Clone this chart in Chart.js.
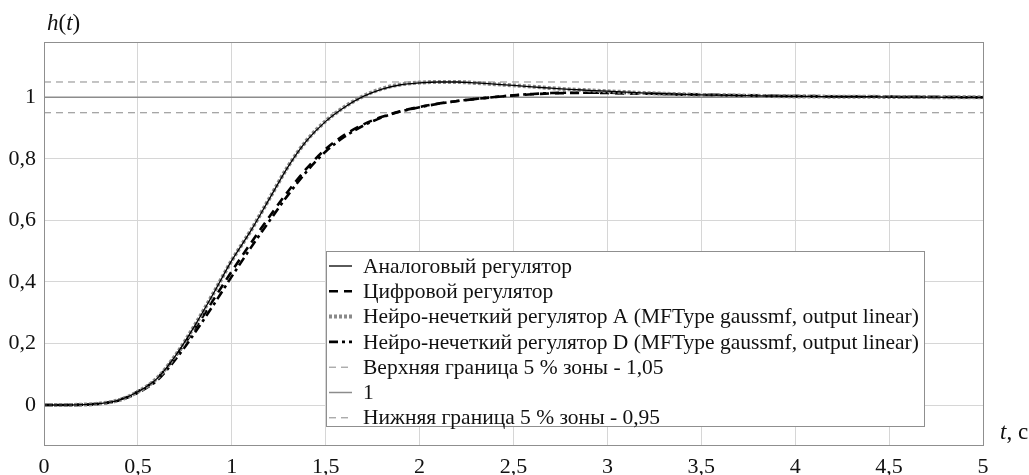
<!DOCTYPE html>
<html>
<head>
<meta charset="utf-8">
<script src="https://cdn.jsdelivr.net/npm/chart.js@4.4.1/dist/chart.umd.min.js"></script>
<style>
  html, body { margin: 0; padding: 0; background: #fff; }
  #wrap { width: 1029px; height: 475px; }
</style>
</head>
<body>
<div id="wrap"><canvas id="grafico" width="1029" height="475"></canvas></div>
<script>
// Переходные характеристики h(t)

const tempo = [0, 0.1, 0.2, 0.3, 0.4, 0.5, 0.6, 0.7, 0.8, 0.9,
  1, 1.1, 1.2, 1.3, 1.4, 1.5, 1.6, 1.7, 1.8, 1.9,
  2, 2.1, 2.2, 2.3, 2.4, 2.5, 2.6, 2.7, 2.8, 2.9,
  3, 3.1, 3.2, 3.3, 3.4, 3.5, 3.6, 3.7, 3.8, 3.9,
  4, 4.1, 4.2, 4.3, 4.4, 4.5, 4.6, 4.7, 4.8, 4.9, 5];

const analogico = [0, 0, 0.001, 0.005, 0.016, 0.043, 0.085, 0.16, 0.255, 0.36,
  0.47, 0.565, 0.67, 0.775, 0.86, 0.922, 0.968, 1.003, 1.027, 1.041,
  1.047, 1.05, 1.05, 1.047, 1.043, 1.039, 1.034, 1.03, 1.026, 1.023,
  1.02, 1.017, 1.014, 1.012, 1.01, 1.008, 1.007, 1.006, 1.005, 1.004,
  1.003, 1.003, 1.002, 1.002, 1.002, 1.001, 1.001, 1.001, 1.0, 1.0, 1.0];

const digital = [0, 0, 0.001, 0.005, 0.017, 0.044, 0.085, 0.158, 0.245, 0.34,
  0.435, 0.525, 0.612, 0.695, 0.77, 0.832, 0.878, 0.912, 0.937, 0.955,
  0.969, 0.98, 0.988, 0.995, 1.001, 1.006, 1.01, 1.013, 1.014, 1.015,
  1.014, 1.013, 1.012, 1.011, 1.009, 1.008, 1.007, 1.006, 1.005, 1.004,
  1.004, 1.003, 1.003, 1.002, 1.002, 1.002, 1.001, 1.001, 1.001, 1.0, 1.0];

const neuroA = [0, 0, 0.001, 0.005, 0.016, 0.043, 0.086, 0.161, 0.256, 0.361,
  0.47, 0.566, 0.671, 0.776, 0.861, 0.923, 0.969, 1.004, 1.028, 1.042,
  1.048, 1.05, 1.05, 1.047, 1.043, 1.039, 1.035, 1.03, 1.026, 1.023,
  1.02, 1.017, 1.014, 1.012, 1.01, 1.008, 1.007, 1.006, 1.005, 1.004,
  1.003, 1.003, 1.002, 1.002, 1.002, 1.001, 1.001, 1.001, 1.0, 1.0, 1.0];

const neuroD = [0, 0, 0.001, 0.004, 0.015, 0.04, 0.079, 0.148, 0.232, 0.323,
  0.418, 0.51, 0.598, 0.683, 0.76, 0.824, 0.872, 0.908, 0.935, 0.954,
  0.968, 0.979, 0.988, 0.995, 1.001, 1.007, 1.011, 1.014, 1.015, 1.015,
  1.015, 1.014, 1.013, 1.011, 1.01, 1.009, 1.008, 1.007, 1.006, 1.005,
  1.004, 1.004, 1.003, 1.003, 1.002, 1.002, 1.002, 1.001, 1.001, 1.001, 1.0];

// линии зоны 5 %
const tempoLimite = [0, 5];
const limiteSuperior = [1.05, 1.05];
const valorUm = [1, 1];
const limiteInferior = [0.95, 0.95];

const ticksX = [0, 0.5, 1, 1.5, 2, 2.5, 3, 3.5, 4, 4.5, 5];
const ticksY = [0, 0.2, 0.4, 0.6, 0.8, 1];

const nomes = [
  'Аналоговый регулятор',
  'Цифровой регулятор',
  'Нейро-нечеткий регулятор A (MFType gaussmf, output linear)',
  'Нейро-нечеткий регулятор D (MFType gaussmf, output linear)',
  'Верхняя граница 5 % зоны - 1,05',
  '1',
  'Нижняя граница 5 % зоны - 0,95'
];

const FONTE = '"Liberation Serif", "Times New Roman", serif';

function pares(xs, ys) {
  return xs.map((x, i) => ({ x: x, y: ys[i] }));
}

function formatar(v) {
  return String(Math.round(v * 10) / 10).replace('.', ',');
}

const conjuntos = [
  { label: nomes[0], data: pares(tempo, analogico), borderColor: '#000', borderWidth: 1.3, borderDash: [], order: 1 },
  { label: nomes[1], data: pares(tempo, digital), borderColor: '#000', borderWidth: 2.6, borderDash: [9, 6], order: 3 },
  { label: nomes[2], data: pares(tempo, neuroA), borderColor: '#8a8a8a', borderWidth: 4, borderDash: [3, 2], order: 2 },
  { label: nomes[3], data: pares(tempo, neuroD), borderColor: '#000', borderWidth: 2.6, borderDash: [9, 4, 3, 4], order: 4 },
  { label: nomes[4], data: pares(tempoLimite, limiteSuperior), borderColor: '#888', borderWidth: 1, borderDash: [7, 5], order: 7 },
  { label: nomes[5], data: pares(tempoLimite, valorUm), borderColor: '#8c8c8c', borderWidth: 1.5, borderDash: [], order: 6 },
  { label: nomes[6], data: pares(tempoLimite, limiteInferior), borderColor: '#888', borderWidth: 1, borderDash: [7, 5], order: 8 }
];

conjuntos.forEach(c => {
  c.pointRadius = 0;
  c.fill = false;
  c.cubicInterpolationMode = 'monotone';
});

// легенда и подписи осей
const extras = {
  id: 'extras',
  afterDatasetsDraw(chart) {
    const ctx = chart.ctx;
    const area = chart.chartArea;
    ctx.save();

    // рамка графика
    ctx.strokeStyle = '#8f8f8f';
    ctx.lineWidth = 1;
    ctx.setLineDash([]);
    ctx.strokeRect(area.left + 0.5, area.top + 0.5, area.right - area.left, area.bottom - area.top);

    // легенда
    const lx = 326, ly = 251, lw = 598, lh = 175;
    ctx.fillStyle = '#fff';
    ctx.fillRect(lx, ly, lw, lh);
    ctx.strokeStyle = '#8f8f8f';
    ctx.strokeRect(lx + 0.5, ly + 0.5, lw, lh);

    ctx.font = '21.5px ' + FONTE;
    ctx.textBaseline = 'middle';
    ctx.textAlign = 'left';
    conjuntos.forEach((c, i) => {
      const y = 266 + i * 25.3;
      ctx.strokeStyle = c.borderColor;
      ctx.lineWidth = c.borderWidth;
      ctx.setLineDash(c.borderDash);
      ctx.beginPath();
      ctx.moveTo(329, y);
      ctx.lineTo(352, y);
      ctx.stroke();
      ctx.setLineDash([]);
      ctx.fillStyle = '#111';
      ctx.fillText(c.label, 363, y + 1);
    });

    // h(t)
    ctx.fillStyle = '#111';
    ctx.font = 'italic 23px ' + FONTE;
    let x = 47;
    ctx.fillText('h', x, 24); x += ctx.measureText('h').width;
    ctx.font = '23px ' + FONTE;
    ctx.fillText('(', x, 24); x += ctx.measureText('(').width;
    ctx.font = 'italic 23px ' + FONTE;
    ctx.fillText('t', x, 24); x += ctx.measureText('t').width;
    ctx.font = '23px ' + FONTE;
    ctx.fillText(')', x, 24);

    // t, c
    x = 1000;
    ctx.font = 'italic 23px ' + FONTE;
    ctx.fillText('t', x, 433); x += ctx.measureText('t').width;
    ctx.font = '23px ' + FONTE;
    ctx.fillText(', с', x, 433);

    ctx.restore();
  }
};

new Chart(document.getElementById('grafico').getContext('2d'), {
  type: 'line',
  data: { datasets: conjuntos },
  options: {
    responsive: false,
    animation: false,
    layout: { padding: { top: 42, right: 46, left: 0, bottom: 0 } },
    plugins: {
      legend: { display: false },
      tooltip: { enabled: false }
    },
    scales: {
      x: {
        type: 'linear',
        min: 0,
        max: 5,
        afterBuildTicks: s => { s.ticks = ticksX.map(v => ({ value: v })); },
        afterFit: s => { s.height = 30; },
        grid: { color: '#d6d6d6', lineWidth: 1, drawTicks: false },
        border: { display: false },
        ticks: {
          padding: 9,
          color: '#111',
          font: { family: FONTE, size: 22 },
          maxRotation: 0,
          callback: v => formatar(v)
        }
      },
      y: {
        min: -0.13,
        max: 1.18,
        afterBuildTicks: s => { s.ticks = ticksY.map(v => ({ value: v })); },
        afterFit: s => { s.width = 44; },
        grid: { color: '#d6d6d6', lineWidth: 1, drawTicks: false },
        border: { display: false },
        ticks: {
          padding: 8,
          color: '#111',
          font: { family: FONTE, size: 22 },
          callback: v => formatar(v)
        }
      }
    }
  },
  plugins: [extras]
});
</script>
</body>
</html>
